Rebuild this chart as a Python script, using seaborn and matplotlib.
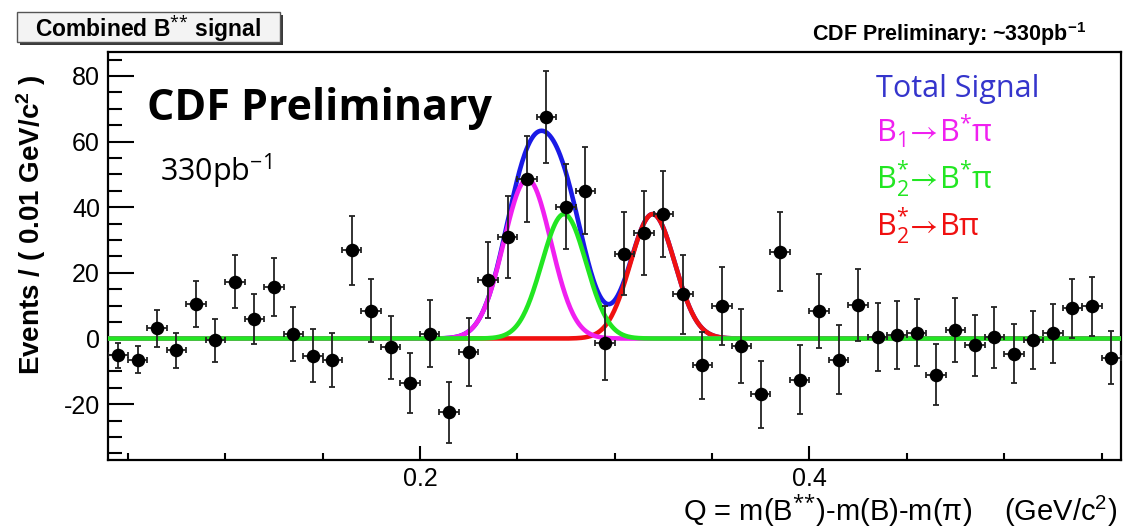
import numpy as np
import pandas as pd
import matplotlib
matplotlib.use("Agg")
import matplotlib.pyplot as plt
import seaborn as sns
from matplotlib.patches import Rectangle
from matplotlib.ticker import MultipleLocator, FixedLocator

# ---------------- data ----------------
q_bins = [0.045, 0.055, 0.065, 0.075, 0.085, 0.095, 0.105, 0.115, 0.125, 0.135,
          0.145, 0.155, 0.165, 0.175, 0.185, 0.195, 0.205, 0.215, 0.225, 0.235,
          0.245, 0.255, 0.265, 0.275, 0.285, 0.295, 0.305, 0.315, 0.325, 0.335,
          0.345, 0.355, 0.365, 0.375, 0.385, 0.395, 0.405, 0.415, 0.425, 0.435,
          0.445, 0.455, 0.465, 0.475, 0.485, 0.495, 0.505, 0.515, 0.525, 0.535,
          0.545, 0.555]
events = [-5.1, -6.4, 3.1, -3.6, 10.5, -0.5, 17.3, 5.9, 15.7, 1.4,
          -5.2, -6.5, 26.9, 8.5, -2.7, -13.6, 1.4, -22.5, -4.0, 17.9,
          31.0, 48.6, 67.6, 40.2, 45.0, -1.4, 25.8, 32.1, 37.9, 13.5,
          -8.2, 9.9, -2.2, -17.0, 26.5, -12.6, 8.3, -6.4, 10.1, 0.4,
          1.1, 1.7, -11.0, 2.6, -2.1, 0.4, -4.6, -0.5, 1.6, 9.2,
          9.8, -5.8]
errors = [3.8, 4.1, 5.7, 5.4, 7.0, 6.6, 8.1, 7.7, 8.7, 8.1,
          8.1, 8.3, 10.5, 9.6, 9.5, 9.1, 10.2, 9.3, 10.4, 11.5,
          12.5, 13.2, 14.0, 13.0, 13.2, 11.3, 12.6, 12.8, 13.2, 12.1,
          10.2, 11.9, 11.3, 10.3, 12.1, 10.5, 11.3, 10.5, 11.0, 10.3,
          10.3, 10.2, 9.3, 9.8, 9.4, 9.3, 8.9, 8.9, 8.9, 9.0,
          9.1, 8.0]
bin_half_width = 0.005

# fitted signal components (Gaussian peak position, height, width)
comp_labels = ["B1->B*pi", "B2*->B*pi", "B2*->Bpi"]
comp_mean = [0.2552, 0.2740, 0.3195]
comp_peak = [48.6, 37.9, 37.9]
comp_sigma = [0.0121, 0.0114, 0.0114]

x_ticks_major = [0.2, 0.4]
y_ticks_major = [-20, 0, 20, 40, 60, 80]

# ---------------- styling ----------------
sns.set_theme(style="white")
plt.rcParams.update({
    "font.family": ["Liberation Sans", "DejaVu Sans"],
    "mathtext.fontset": "custom",
    "mathtext.rm": "Open Sans",
    "mathtext.it": "Open Sans",
    "mathtext.bf": "Liberation Sans:bold",
    "mathtext.sf": "Liberation Sans",
    "mathtext.fallback": "stixsans",
    "axes.unicode_minus": False,
})

W, H = 1124, 529
fig = plt.figure(figsize=(W / 100, H / 100), dpi=100)
fig.patch.set_facecolor("white")


def fx(x):
    return x / W


def fy(y):
    return 1 - y / H


ax = fig.add_axes([fx(108.3), fy(460), fx(1121) - fx(108.3), fy(52.3) - fy(460)])
ax.set_xlim(0.04, 0.56)
ax.set_ylim(-37, 87.2)

# curves
qq = np.linspace(0.04, 0.56, 1200)
comps = [p * np.exp(-0.5 * ((qq - m) / s) ** 2) for m, p, s in zip(comp_mean, comp_peak, comp_sigma)]
total = comps[0] + comps[1] + comps[2]
curve_df = pd.DataFrame({"q": qq, "total": total, "b1": comps[0], "b2s": comps[1], "b2": comps[2]})

lw = 3.3
sns.lineplot(data=curve_df, x="q", y="total", ax=ax, color="#1a1ae6", lw=lw, zorder=2)
sns.lineplot(data=curve_df, x="q", y="b2", ax=ax, color="#f01010", lw=lw, zorder=3)
sns.lineplot(data=curve_df, x="q", y="b1", ax=ax, color="#f020f0", lw=lw, zorder=4)
sns.lineplot(data=curve_df, x="q", y="b2s", ax=ax, color="#22e622", lw=lw, zorder=5)

# data points
pts = pd.DataFrame({"q": q_bins, "n": events, "err": errors})
ax.errorbar(pts["q"], pts["n"], yerr=pts["err"], xerr=bin_half_width, fmt="none",
            ecolor="#222222", elinewidth=1.3, capsize=2.5, capthick=1.3, zorder=6)
sns.scatterplot(data=pts, x="q", y="n", ax=ax, color="black", s=95, edgecolor="black",
                linewidth=0, zorder=7, legend=False)

# axes cosmetics
for sp in ax.spines.values():
    sp.set_color("black")
    sp.set_linewidth(1.6)
ax.set_xlabel("")
ax.set_ylabel("")
ax.xaxis.set_major_locator(FixedLocator(x_ticks_major))
ax.xaxis.set_minor_locator(MultipleLocator(0.05))
ax.yaxis.set_major_locator(FixedLocator(y_ticks_major))
ax.yaxis.set_minor_locator(MultipleLocator(5))
ax.set_xticklabels(["0.2", "0.4"])
ax.set_yticklabels([str(v) for v in y_ticks_major])
ax.tick_params(axis="y", which="major", direction="in", length=19, width=1.5,
               labelsize=18, pad=6, left=True, right=False, colors="black")
ax.tick_params(axis="y", which="minor", direction="in", length=10, width=1.5,
               left=True, right=False, colors="black")
ax.tick_params(axis="x", which="major", direction="in", length=10, width=1.5,
               labelsize=18, pad=5, bottom=True, top=False, colors="black")
ax.tick_params(axis="x", which="minor", direction="in", length=5, width=1.5,
               bottom=True, top=False, colors="black")

# ---------------- texts ----------------
# title box with shadow
bx0, by0, bx1, by1 = 17, 12, 280, 41.5
fig.patches.append(Rectangle((fx(bx0 + 3), fy(by1 + 3)), fx(bx1) - fx(bx0), fy(by0) - fy(by1),
                             transform=fig.transFigure, facecolor="#3a3a3a", edgecolor="none", zorder=1))
fig.patches.append(Rectangle((fx(bx0), fy(by1)), fx(bx1) - fx(bx0), fy(by0) - fy(by1),
                             transform=fig.transFigure, facecolor="#f3f3f3", edgecolor="#555555",
                             lw=1.0, zorder=2))
fig.text(fx((bx0 + bx1) / 2), fy(36.5), r"Combined B$^{{*}{*}}$ signal", ha="center", va="baseline",
         fontsize=16.5, fontweight="bold", color="black", zorder=3)

fig.text(fx(1086), fy(40.5), r"CDF Preliminary: ~330pb$^{\mathbf{-1}}$", ha="right", va="baseline",
         fontsize=15.5, fontweight="bold", color="black")

fig.text(fx(147), fy(120), "CDF Preliminary", ha="left", va="baseline",
         fontsize=31, fontweight="bold", family=["Open Sans", "DejaVu Sans"], color="black")
fig.text(fx(160), fy(181), r"330pb$^{-1}$", ha="left", va="baseline",
         fontsize=22, family=["Open Sans", "DejaVu Sans"], color="black")

leg_fam = ["Open Sans", "DejaVu Sans"]
fig.text(fx(876), fy(97), "Total Signal", ha="left", va="baseline", fontsize=22,
         family=leg_fam, color="#3535cc")
fig.text(fx(876), fy(143), r"B$_1\!\rightarrow\!$B$^{*}$π", ha="left", va="baseline", fontsize=22,
         family=leg_fam, color="#f020f0")
fig.text(fx(876), fy(188), r"B$_2^{*}\!\rightarrow\!$B$^{*}$π", ha="left", va="baseline", fontsize=22,
         family=leg_fam, color="#22e622")
fig.text(fx(876), fy(235), r"B$_2^{*}\!\rightarrow\!$Bπ", ha="left", va="baseline", fontsize=22,
         family=leg_fam, color="#f01010")

# axis titles
fig.text(fx(31), fy(225), r"Events / ( 0.01 GeV/c$^{\mathbf{2}}$ )", rotation=90,
         ha="center", va="center", fontsize=20, fontweight="bold", color="black")
fig.text(fx(1117), fy(521), r"Q = m(B$^{{*}{*}}$)-m(B)-m(π)    (GeV/c$^{\mathsf{2}}$)",
         ha="right", va="baseline", fontsize=21, color="black")

fig.savefig("out.png", dpi=100, facecolor="white")
